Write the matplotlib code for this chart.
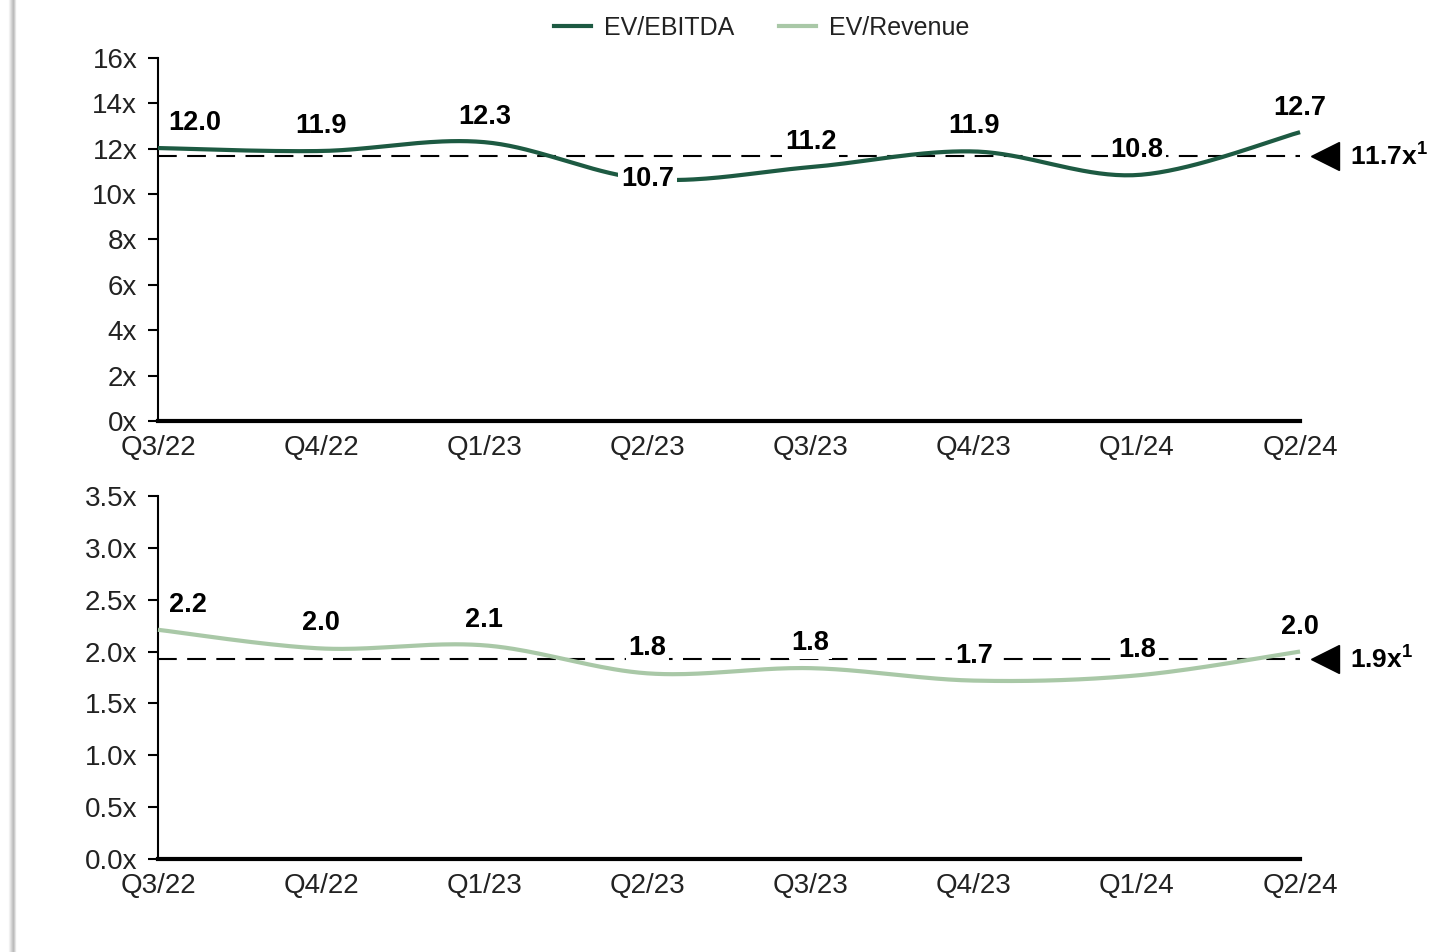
import numpy as np
import matplotlib.pyplot as plt
import matplotlib.transforms as mtransforms
from matplotlib.lines import Line2D

plt.rcParams['font.family'] = ['Liberation Sans', 'DejaVu Sans']
plt.rcParams['mathtext.fontset'] = 'custom'
plt.rcParams['mathtext.bf'] = 'Liberation Sans:bold'

quarters = ['Q3/22', 'Q4/22', 'Q1/23', 'Q2/23', 'Q3/23', 'Q4/23', 'Q1/24', 'Q2/24']
ev_ebitda = [12.03, 11.9, 12.29, 10.66, 11.19, 11.88, 10.84, 12.73]
ev_revenue = [2.21, 2.03, 2.06, 1.79, 1.84, 1.72, 1.77, 2.0]
# label offsets above the point (pixels); Q2/23 EBITDA label sits on the line
ebitda_lbl_dy = [25, 25, 25, 0, 25, 25, 25, 24]
revenue_lbl_dy = [25, 25, 25, 25, 25, 25, 25, 25]

DARK = '#1d5a42'
LIGHT = '#a9c8a7'


def smooth(x, y, n=40):
    # excel-style smoothed line (bezier through the points)
    P = np.column_stack([x, y]).astype(float)
    out = []
    for i in range(len(P) - 1):
        p0 = P[max(i - 1, 0)]
        p1 = P[i]
        p2 = P[i + 1]
        p3 = P[min(i + 2, len(P) - 1)]
        c1 = p1 + (p2 - p0) / 6
        c2 = p2 - (p3 - p1) / 6
        t = np.linspace(0, 1, n)[:, None]
        seg = (1 - t) ** 3 * p1 + 3 * (1 - t) ** 2 * t * c1 + 3 * (1 - t) * t ** 2 * c2 + t ** 3 * p2
        out.append(seg if i == 0 else seg[1:])
    out = np.vstack(out)
    return out[:, 0], out[:, 1]


fig = plt.figure(figsize=(14.56, 9.52), dpi=100)
ax1 = fig.add_axes([0.1085, 0.5578, 0.7844, 0.3813])
ax2 = fig.add_axes([0.1085, 0.0977, 0.7844, 0.3813])

# shadow on the left edge
for i, a in enumerate([0.08, 0.15, 0.25, 0.35, 0.45, 0.3, 0.15]):
    fig.add_artist(Line2D([(9 + i) / 1456] * 2, [0.0, 1.0], color='gray', alpha=a, lw=1,
                          transform=fig.transFigure))

x = np.arange(len(quarters))


def draw(ax, vals, color, ylim, yticks, fmt, dys, first_dx):
    sx, sy = smooth(x, vals)
    avg = np.mean(vals)
    ax.axhline(avg, color='black', lw=1.5, dashes=(9, 5), zorder=2)
    ax.plot(sx, sy, color=color, lw=3, zorder=3, clip_on=False, solid_capstyle='butt')
    for i, v in enumerate(vals):
        dx = first_dx if i == 0 else 0
        ax.annotate('%.1f' % v, (x[i], v), xytext=(dx, dys[i]), textcoords='offset pixels',
                    ha='center', va='center', fontsize=19.5, fontweight='bold',
                    bbox=dict(fc='white', ec='none', pad=2), zorder=5, annotation_clip=False)
    tri = mtransforms.offset_copy(ax.transData, fig=fig, x=25, y=0, units='dots')
    ax.plot([x[-1]], [avg], marker='<', ms=20, color='black', transform=tri, clip_on=False)
    ax.annotate('%.1fx$^{\\mathbf{1}}$' % avg, (x[-1], avg), xytext=(50, 0),
                textcoords='offset pixels', ha='left', va='center', fontsize=19,
                fontweight='bold', annotation_clip=False)
    ax.set_xlim(0, len(quarters) - 1)
    ax.set_ylim(*ylim)
    ax.set_yticks(yticks)
    ax.set_yticklabels([fmt % t for t in yticks])
    ax.set_xticks(x)
    ax.set_xticklabels(quarters)
    for s in ['top', 'right']:
        ax.spines[s].set_visible(False)
    ax.spines['left'].set_linewidth(1.5)
    ax.spines['bottom'].set_linewidth(3)
    ax.tick_params(axis='y', length=7, width=1.5, pad=8, labelsize=20, labelcolor='#222222')
    ax.tick_params(axis='x', length=0, pad=10, labelsize=20, labelcolor='#222222')


draw(ax1, ev_ebitda, DARK, (0, 16), np.arange(0, 17, 2), '%dx', ebitda_lbl_dy, 37)
draw(ax2, ev_revenue, LIGHT, (0, 3.5), np.arange(0, 3.6, 0.5), '%.1fx', revenue_lbl_dy, 30)

handles = [Line2D([], [], color=DARK, lw=3), Line2D([], [], color=LIGHT, lw=3)]
fig.legend(handles, ['EV/EBITDA', 'EV/Revenue'], loc='center', bbox_to_anchor=(0.523, 0.971),
           ncol=2, frameon=False, fontsize=18, handlelength=1.5, columnspacing=1.8,
           handletextpad=0.5, labelcolor='#222222')

fig.savefig('out.png', dpi=100)
